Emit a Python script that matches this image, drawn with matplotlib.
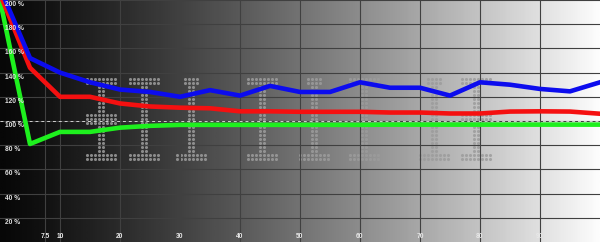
import numpy as np
import matplotlib
matplotlib.use("Agg")
import matplotlib.pyplot as plt

# measured points, every 5 % of stimulus
levels = [0, 5, 10, 15, 20, 25, 30, 35, 40, 45, 50,
          55, 60, 65, 70, 75, 80, 85, 90, 95, 100]
blue = [210, 152, 140, 132, 126, 124, 120, 125.5, 121, 129, 124,
        124, 132, 127.5, 127.5, 121, 132, 130, 126.5, 124.5, 132]
red = [205, 144, 120, 120, 114.5, 112, 111, 110.5, 108, 108, 107.6,
       107.6, 107.6, 107, 107, 106.2, 106.2, 107.8, 108, 107.8, 106]
green = [200, 81, 91, 91, 94.5, 96, 96.8, 96.8, 96.8, 96.8, 96.8,
         96.8, 96.8, 97, 97, 97, 97, 97, 97, 97, 97]

x_ticks = [7.5, 10, 20, 30, 40, 50, 60, 70, 80, 90]
x_labels = ["7.5", "10", "20", "30", "40", "50", "60", "70", "80", "90"]
y_ticks = [20, 40, 60, 80, 100, 120, 140, 160, 180, 200]
y_labels = ["20 %", "40 %", "60 %", "80 %", "100 %", "120 %",
            "140 %", "160 %", "180 %", "200 %"]

# dot-matrix watermark glyphs
GLYPH_I = ["########", "########"] + ["...##..."] * 17 + ["########", "########"]
GLYPH_1 = ["..####..", "..####.."] + ["...##..."] * 17 + ["########", "########"]
GLYPH_H = ["########", "########"] + ["...##..."] * 7 + ["########"] * 3 + ["...##..."] * 7 + ["########", "########"]
glyph_x = [14.5, 21.7, 29.5, 41.3, 50, 58.3, 70, 77]
glyphs = [GLYPH_H, GLYPH_I, GLYPH_1, GLYPH_I, GLYPH_1, GLYPH_I, GLYPH_1, GLYPH_H]

fig = plt.figure(figsize=(6, 2.42), dpi=100)
ax = fig.add_axes([0, 0, 1, 1])
ax.set_xlim(0, 100)
ax.set_ylim(0, 200)
ax.axis("off")

# black to white background
grad = (np.linspace(0.0, 1.0, 256) ** 1.2 * 0.96 + 0.03).reshape(1, -1)
ax.imshow(grad, cmap="gray", vmin=0, vmax=1, aspect="auto",
          extent=[0, 100, 0, 200], zorder=0)

# watermark
dx = 4 / 6.0
dy = 4 * 200 / 242.0
for gx, g in zip(glyph_x, glyphs):
    xs, ys = [], []
    for r, row in enumerate(g):
        for c, ch in enumerate(row):
            if ch == "#":
                xs.append(gx + c * dx)
                ys.append(135 - r * dy)
    ax.scatter(xs, ys, s=5, color="#9c9c9c", alpha=0.85, linewidths=0, zorder=1)

for xt in x_ticks:
    ax.axvline(xt, color="#404040", lw=0.8, zorder=2)
for yt in y_ticks:
    ax.axhline(yt, color="#404040", lw=0.8, zorder=2)
ax.axhline(100, color="#d0d0d0", lw=0.7, ls=(0, (3, 3)), zorder=3)

ax.plot(levels, green, color="#1ef01e", lw=3.3, zorder=4, solid_joinstyle="round")
ax.plot(levels, red, color="#f51010", lw=3.3, zorder=5, solid_joinstyle="round")
ax.plot(levels, blue, color="#0c0cee", lw=3.3, zorder=6, solid_joinstyle="round")

for yt, lab in zip(y_ticks, y_labels):
    ax.text(0.8, yt - 0.8, lab, color="#e0e0e0", fontsize=4.8, va="top",
            ha="left", family="Liberation Sans", fontweight="bold", zorder=7)
for xt, lab in zip(x_ticks, x_labels):
    ax.text(xt, 4.5, lab, color="#e8e8e8", fontsize=4.8, va="center",
            ha="center", family="Liberation Sans", fontweight="bold", zorder=7)

fig.savefig("out.png", dpi=100)
